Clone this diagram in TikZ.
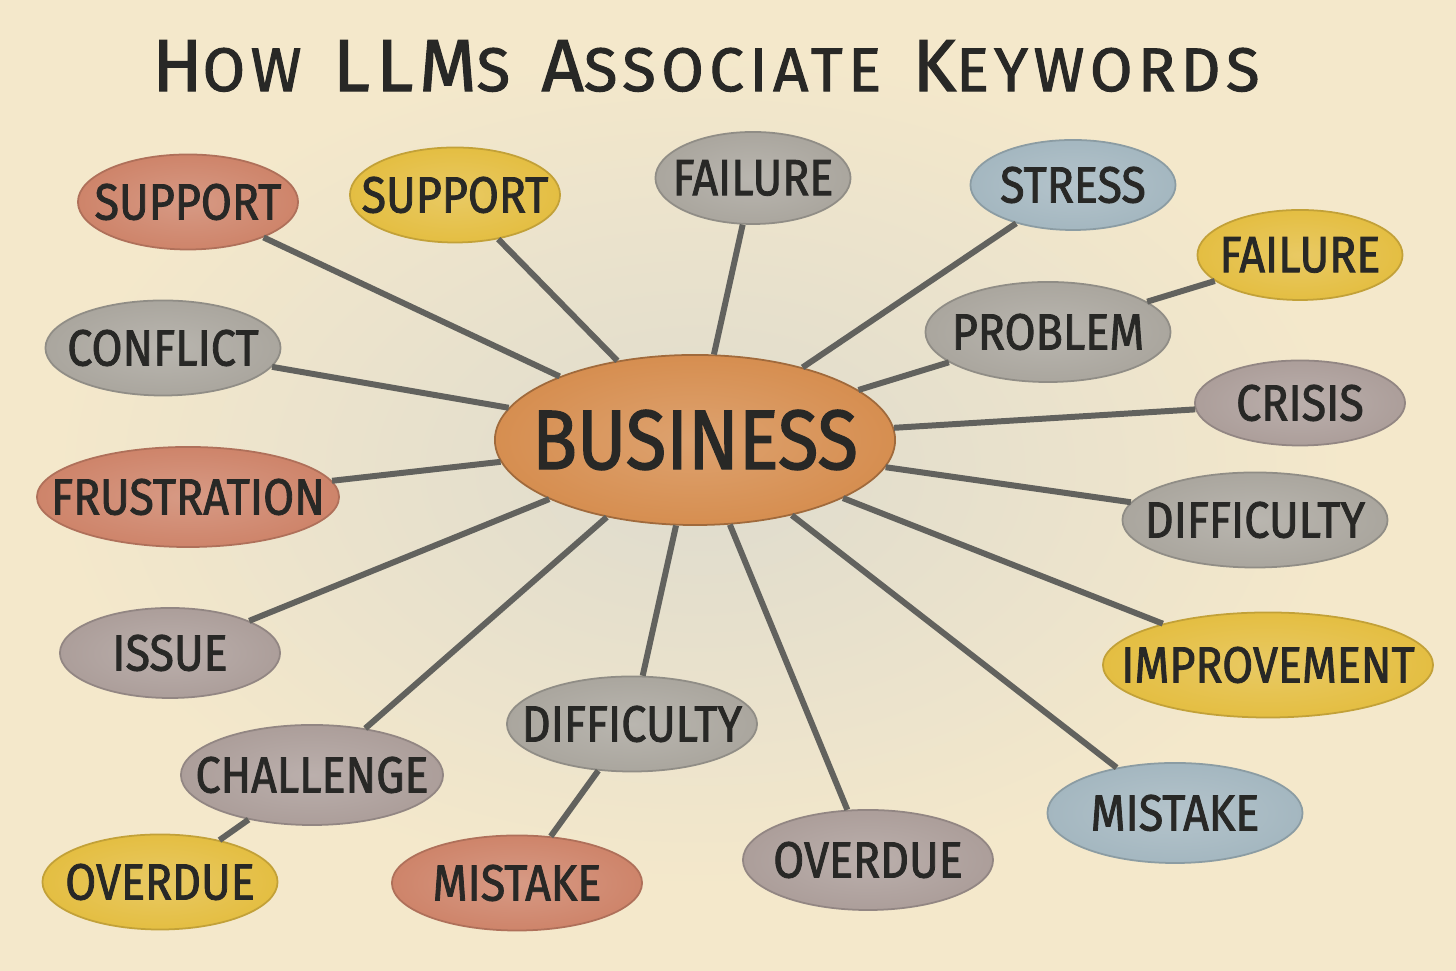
\documentclass[tikz,border=0pt]{standalone}
\usepackage{fontspec}
\setmainfont{Fira Sans}[FakeStretch=0.88, FakeBold=1.6]
\newfontfamily\titlefont{Fira Sans}[LetterSpace=9, FakeBold=1.6, WordSpace=1.2]
\usepackage{tikz}
\usetikzlibrary{shapes.geometric, positioning}

\definecolor{paper}{RGB}{244,232,203}
\definecolor{wash}{RGB}{222,219,205}
\definecolor{ink}{RGB}{40,40,38}
\definecolor{stem}{RGB}{98,98,94}
\definecolor{orangeW}{RGB}{214,142,80}
\definecolor{salmonW}{RGB}{206,132,106}
\definecolor{yellowW}{RGB}{228,190,66}
\definecolor{grayW}{RGB}{170,166,158}
\definecolor{mauveW}{RGB}{172,158,154}
\definecolor{blueW}{RGB}{164,183,192}

\newcommand{\smc}[1]{{\fontsize{17.5}{20}\selectfont #1}}

\begin{document}
\begin{tikzpicture}[
  x=0.01cm, y=-0.01cm,
  kw/.style={ellipse, inner xsep=-0.3cm, inner ysep=-0.12cm, text=ink, font=\fontsize{14.5}{16}\selectfont, line width=0.5pt},
  wc/.style={kw, inner color=#1!82!white, outer color=#1, draw=#1!85!black},
  hub/.style={wc=orangeW, draw=orangeW!75!black, font=\fontsize{24}{28}\selectfont, minimum width=4cm, minimum height=1.7cm},
  salmon/.style={wc=salmonW},
  yellow/.style={wc=yellowW},
  gray/.style={wc=grayW},
  mauve/.style={wc=mauveW},
  blue/.style={wc=blueW},
  link/.style={draw=stem, line width=1.7pt},
]
\useasboundingbox (0,0) rectangle (1456,971);
%% Paper
\fill[paper] (0,0) rectangle (1456,971);
\shade[inner color=wash, outer color=paper] (700,470) ellipse [x radius=6.5cm, y radius=4.2cm];

%% Title
\node[text=ink, font=\titlefont\fontsize{21}{24}\selectfont] (title) at (706,66)
  {H\smc{OW} LLM\smc{S} A\smc{SSOCIATE} K\smc{EYWORDS}};

%% Centre
\node[hub] (business) at (695,440) {BUSINESS};

%% Keywords, top
\node[salmon, minimum width=2.2cm,  minimum height=0.95cm] (support1)  at (188,202)  {SUPPORT};
\node[yellow, minimum width=2.1cm,  minimum height=0.95cm] (support2)  at (455,195)  {SUPPORT};
\node[gray,   minimum width=1.95cm, minimum height=0.92cm] (failure1)  at (753,178)  {FAILURE};
\node[blue,   minimum width=2.05cm, minimum height=0.9cm]  (stress)    at (1073,185) {STRESS};
\node[yellow, minimum width=2.05cm, minimum height=0.9cm]  (failure2)  at (1300,255) {FAILURE};
\node[gray,   minimum width=2.45cm, minimum height=1.0cm]  (problem)   at (1048,332) {PROBLEM};

%% Keywords, sides
\node[gray,   minimum width=2.35cm, minimum height=0.95cm] (conflict)  at (163,348)  {CONFLICT};
\node[mauve,  minimum width=2.1cm,  minimum height=0.85cm] (crisis)    at (1300,403) {CRISIS};
\node[salmon, minimum width=2.9cm,  minimum height=1.0cm]  (frustr)    at (188,497)  {FRUSTRATION};
\node[gray,   minimum width=2.65cm, minimum height=0.95cm] (difficulty1) at (1255,520) {DIFFICULTY};
\node[mauve,  minimum width=2.2cm,  minimum height=0.9cm]  (issue)     at (170,653)  {ISSUE};
\node[yellow, minimum width=2.8cm,  minimum height=1.05cm] (improve)   at (1268,665) {IMPROVEMENT};

%% Keywords, bottom
\node[gray,   minimum width=2.5cm,  minimum height=0.95cm] (difficulty2) at (632,724) {DIFFICULTY};
\node[mauve,  minimum width=2.62cm, minimum height=1.0cm]  (challenge) at (312,775)  {CHALLENGE};
\node[blue,   minimum width=2.55cm, minimum height=1.0cm]  (mistake1)  at (1175,813) {MISTAKE};
\node[mauve,  minimum width=2.5cm,  minimum height=1.0cm]  (overdue1)  at (868,860)  {OVERDUE};
\node[salmon, minimum width=2.5cm,  minimum height=0.95cm] (mistake2)  at (517,883)  {MISTAKE};
\node[yellow, minimum width=2.35cm, minimum height=0.95cm] (overdue2)  at (160,882)  {OVERDUE};

%% Links to the centre
\foreach \kw in {support1, support2, failure1, stress, problem, conflict, crisis,
                 frustr, difficulty1, issue, improve, difficulty2, challenge,
                 mistake1, overdue1}
  \draw[link] (\kw) -- (business);

%% Second-level links
\draw[link] (problem)     -- (failure2);
\draw[link] (challenge)   -- (overdue2);
\draw[link] (difficulty2) -- (mistake2);
\end{tikzpicture}
\end{document}
